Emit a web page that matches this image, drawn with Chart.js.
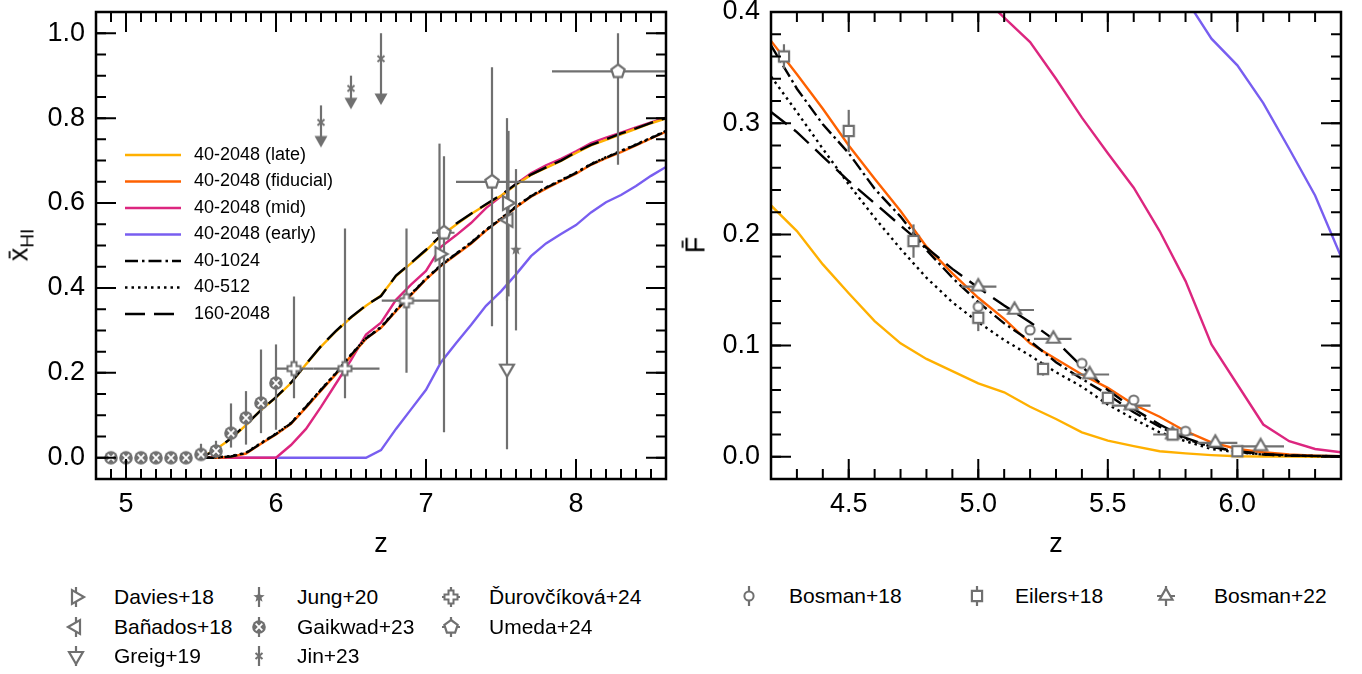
<!DOCTYPE html>
<html>
<head>
<meta charset="utf-8">
<script src="https://cdn.jsdelivr.net/npm/chart.js@4.4.1/dist/chart.umd.min.js"></script>
<style>
  html, body { margin: 0; padding: 0; background: #fff; }
  body { position: relative; width: 1362px; height: 674px; overflow: hidden; font-family: "Liberation Sans", Arial, sans-serif; }
  canvas.panel { position: absolute; top: -20px; }
  #left { left: 0; }
  #right { left: 690px; }
  .ytitle { position: absolute; font-size: 27px; line-height: 27px; white-space: nowrap; transform: translate(-50%, -50%) rotate(-90deg); }
  .ytitle sub { font-size: 19px; line-height: 0; }
  .key { position: absolute; font-size: 21px; line-height: 24px; white-space: nowrap; transform: translateY(-50%); }
  .keyicon { position: absolute; }
</style>
</head>
<body>
<canvas id="left" class="panel" width="690" height="580"></canvas>
<canvas id="right" class="panel" width="672" height="580"></canvas>
<div class="ytitle" style="left:19px;top:245px">x̄<sub>HI</sub></div>
<div class="ytitle" style="left:696px;top:245px">F̄</div>
<div id="keys"></div>
<script>
const FONT = '"Liberation Sans", Arial, sans-serif';
const GRAY = '#707070';
const C_LATE = '#FFB000', C_FID = '#FE6100', C_MID = '#DC267F', C_EARLY = '#785EF0';

// ---- left panel: volume-averaged neutral fraction from the simulations
const zModel = [5.5, 5.6, 5.7, 5.8, 5.9, 6.0, 6.1, 6.2, 6.3, 6.4, 6.5, 6.6, 6.7, 6.8, 6.9, 7.0,
                7.1, 7.2, 7.3, 7.4, 7.5, 7.6, 7.7, 7.8, 7.9, 8.0, 8.1, 8.2, 8.3, 8.4, 8.5, 8.6];
const xhiLate     = [0, 0.02, 0.045, 0.077, 0.113, 0.142, 0.176, 0.22, 0.262, 0.298, 0.33, 0.358, 0.382, 0.428, 0.458, 0.488,
                     0.523, 0.549, 0.574, 0.596, 0.617, 0.643, 0.666, 0.683, 0.699, 0.718, 0.736, 0.749, 0.762, 0.775, 0.788, 0.799];
const xhiFiducial = [0, 0, 0.002, 0.01, 0.033, 0.055, 0.08, 0.118, 0.158, 0.197, 0.24, 0.28, 0.306, 0.345, 0.383, 0.42,
                     0.452, 0.478, 0.504, 0.535, 0.562, 0.59, 0.615, 0.634, 0.652, 0.669, 0.69, 0.706, 0.72, 0.736, 0.752, 0.768];
const xhiMid      = [0, 0, 0, 0, 0, 0, 0.03, 0.068, 0.12, 0.175, 0.23, 0.29, 0.318, 0.372, 0.408, 0.44,
                     0.497, 0.524, 0.553, 0.588, 0.616, 0.645, 0.67, 0.689, 0.704, 0.722, 0.741, 0.754, 0.766, 0.778, 0.79, 0.801];
const xhiEarly    = [0, 0, 0, 0, 0, 0, 0, 0, 0, 0, 0, 0, 0.018, 0.068, 0.114, 0.16,
                     0.225, 0.27, 0.313, 0.358, 0.392, 0.432, 0.475, 0.505, 0.527, 0.548, 0.578, 0.602, 0.619, 0.64, 0.664, 0.685];
const xhi1024     = [0, 0, 0.003, 0.011, 0.034, 0.056, 0.081, 0.12, 0.16, 0.199, 0.242, 0.281, 0.307, 0.347, 0.385, 0.421,
                     0.453, 0.48, 0.506, 0.536, 0.563, 0.591, 0.616, 0.636, 0.653, 0.671, 0.691, 0.707, 0.722, 0.737, 0.753, 0.769];
const xhi512      = [0, 0.001, 0.004, 0.012, 0.035, 0.057, 0.082, 0.121, 0.161, 0.2, 0.243, 0.282, 0.308, 0.348, 0.386, 0.422,
                     0.454, 0.481, 0.507, 0.537, 0.564, 0.592, 0.617, 0.637, 0.654, 0.672, 0.692, 0.708, 0.723, 0.738, 0.754, 0.77];
const xhi160      = [0, 0.019, 0.046, 0.078, 0.112, 0.143, 0.177, 0.221, 0.263, 0.299, 0.331, 0.359, 0.381, 0.429, 0.459, 0.49,
                     0.524, 0.551, 0.575, 0.597, 0.619, 0.645, 0.667, 0.684, 0.7, 0.72, 0.737, 0.75, 0.764, 0.776, 0.789, 0.8];

// ---- left panel: observational constraints
const daviesZ = [7.09, 7.54], daviesX = [0.48, 0.60], daviesLo = [0.22, 0.37], daviesHi = [0.74, 0.80];
const banadosZ = [7.55], banadosX = [0.56], banadosLo = [0.38], banadosHi = [0.77];
const greigZ = [7.54], greigX = [0.21], greigLo = [0.02], greigHi = [0.38];
const jungZ = [7.6], jungX = [0.49], jungLo = [0.30], jungHi = [0.68];
const gaikZ  = [4.9, 5.0, 5.1, 5.2, 5.3, 5.4, 5.5, 5.6, 5.7, 5.8, 5.9, 6.0];
const gaikX  = [0, 0, 0, 0, 0, 0, 0.008, 0.016, 0.058, 0.094, 0.129, 0.176];
const gaikLo = [0, 0, 0, 0, 0, 0, 0, 0, 0.024, 0.031, 0.058, 0.066];
const gaikHi = [0, 0, 0, 0, 0, 0, 0.033, 0.04, 0.128, 0.157, 0.255, 0.267];
const jinZ = [6.3, 6.5, 6.7], jinX = [0.79, 0.87, 0.94], jinHi = [0.83, 0.90, 1.0], jinArrow = [0.745, 0.835, 0.845];
const durZ = [6.12, 6.46, 6.87], durX = [0.21, 0.21, 0.37], durLo = [0.14, 0.14, 0.20], durHi = [0.38, 0.54, 0.54];
const durZlo = [6.0, 6.25, 6.705], durZhi = [6.25, 6.69, 7.09];
const umedaZ = [7.12, 7.44, 8.28], umedaX = [0.53, 0.65, 0.91], umedaLo = [0.06, 0.31, 0.69], umedaHi = [0.71, 0.92, 1.0];
const umedaZlo = [7.04, 7.20, 7.84], umedaZhi = [7.19, 7.78, 8.9];

// ---- right panel: mean transmitted flux
const zFlux = [4.2, 4.3, 4.4, 4.5, 4.6, 4.7, 4.8, 4.9, 5.0, 5.1, 5.2, 5.3, 5.4, 5.5, 5.6, 5.7, 5.8, 5.9, 6.0, 6.1, 6.2, 6.3, 6.4];
const fLate     = [0.226, 0.203, 0.173, 0.147, 0.122, 0.102, 0.088, 0.077, 0.066, 0.058, 0.045, 0.034, 0.022, 0.0145, 0.0095, 0.005, 0.003, 0.0015, 0.0005, 0.0002, 0.0001, 0, 0];
const fFiducial = [0.374, 0.344, 0.313, 0.28, 0.25, 0.221, 0.189, 0.165, 0.143, 0.124, 0.102, 0.088, 0.074, 0.062, 0.047, 0.036, 0.023, 0.013, 0.007, 0.004, 0.002, 0.001, 0.0005];
const fMid      = [null, null, null, null, null, null, null, null, 0.417, 0.395, 0.373, 0.34, 0.305, 0.273, 0.242, 0.203, 0.158, 0.101, 0.065, 0.029, 0.014, 0.007, 0.004];
const fEarly    = [null, null, null, null, null, null, null, null, null, null, null, null, null, null, null, null, 0.412, 0.376, 0.352, 0.318, 0.277, 0.235, 0.18];
const f1024     = [0.37, 0.331, 0.299, 0.273, 0.241, 0.216, 0.186, 0.161, 0.139, 0.12, 0.104, 0.085, 0.07, 0.056, 0.04, 0.027, 0.016, 0.009, 0.0045, 0.002, 0.001, 0.0007, 0.0005];
const f512      = [0.342, 0.31, 0.277, 0.245, 0.215, 0.187, 0.161, 0.139, 0.121, 0.105, 0.091, 0.076, 0.063, 0.047, 0.034, 0.022, 0.014, 0.007, 0.004, 0.002, 0.001, 0.0006, 0.0004];
const f160      = [0.31, 0.292, 0.27, 0.248, 0.228, 0.208, 0.188, 0.169, 0.152, 0.136, 0.121, 0.104, 0.081, 0.06, 0.043, 0.029, 0.017, 0.009, 0.005, 0.0025, 0.0012, 0.0008, 0.0005];

const bosman18Z = [5.0, 5.2, 5.4, 5.6, 5.8], bosman18F = [0.135, 0.114, 0.084, 0.051, 0.023], bosman18Err = [0.003, 0.003, 0.003, 0.003, 0.002];
const eilersZ = [4.25, 4.5, 4.75, 5.0, 5.25, 5.5, 5.75, 6.0];
const eilersF = [0.36, 0.293, 0.194, 0.125, 0.079, 0.053, 0.02, 0.005];
const eilersErr = [0.011, 0.019, 0.015, 0.012, 0.006, 0.004, 0.003, 0.002];
const bosman22Z = [5.0, 5.14, 5.29, 5.43, 5.59, 5.75, 5.915, 6.09];
const bosman22F = [0.153, 0.132, 0.106, 0.074, 0.046, 0.02, 0.0125, 0.0093];
const bosman22Err = [0.003, 0.003, 0.003, 0.003, 0.003, 0.002, 0.002, 0.002];
const bosman22Zlo = [4.935, 5.075, 5.215, 5.36, 5.515, 5.675, 5.845, 6.015];
const bosman22Zhi = [5.07, 5.215, 5.36, 5.505, 5.665, 5.83, 6.0, 6.18];

// tick values
const leftZTicks = [5, 6, 7, 8];
const leftXhiTicks = [0, 0.2, 0.4, 0.6, 0.8, 1.0];
const rightZTicks = [4.5, 5.0, 5.5, 6.0];
const rightFluxTicks = [0, 0.1, 0.2, 0.3, 0.4];

// ---- marker glyphs
function marker(size, paint) {
  const c = document.createElement('canvas');
  c.width = size; c.height = size;
  const g = c.getContext('2d');
  g.translate(size / 2, size / 2);
  paint(g);
  return c;
}
function regular(n, r, rot) {
  const p = [];
  for (let k = 0; k < n; k++) {
    const t = rot + k * 2 * Math.PI / n;
    p.push([r * Math.sin(t), -r * Math.cos(t)]);
  }
  return p;
}
function path(g, p) {
  g.beginPath();
  p.forEach(([a, b], k) => k ? g.lineTo(a, b) : g.moveTo(a, b));
  g.closePath();
}
const open = (p, lw) => g => {
  path(g, p);
  g.fillStyle = '#fff'; g.fill();
  g.strokeStyle = GRAY; g.lineWidth = lw; g.lineJoin = 'miter'; g.stroke();
};
const mTriR = marker(24, open(regular(3, 8, Math.PI / 2), 2.2));
const mTriL = marker(24, open(regular(3, 8, -Math.PI / 2), 2.2));
const mTriD = marker(24, open(regular(3, 8, Math.PI), 2.2));
const mTriU = marker(24, open(regular(3, 7.5, 0), 2.2));
const mPent = marker(24, open(regular(5, 7, 0), 2.2));
const mSquare = marker(24, open(regular(4, 7.2, Math.PI / 4), 2.2));
const mCircle = marker(20, g => {
  g.beginPath(); g.arc(0, 0, 4.6, 0, 2 * Math.PI);
  g.fillStyle = '#fff'; g.fill(); g.strokeStyle = GRAY; g.lineWidth = 2; g.stroke();
});
const mStar = marker(18, g => {
  const p = [];
  for (let k = 0; k < 10; k++) {
    const r = k % 2 ? 2.6 : 6, t = k * Math.PI / 5;
    p.push([r * Math.sin(t), -r * Math.cos(t)]);
  }
  path(g, p); g.fillStyle = GRAY; g.fill();
});
const mGaik = marker(20, g => {
  g.beginPath(); g.arc(0, 0, 6.8, 0, 2 * Math.PI); g.fillStyle = GRAY; g.fill();
  g.strokeStyle = '#fff'; g.lineWidth = 1.8; g.beginPath();
  g.moveTo(-3.3, -3.3); g.lineTo(3.3, 3.3); g.moveTo(3.3, -3.3); g.lineTo(-3.3, 3.3); g.stroke();
});
const mPlus = marker(22, open([[-2.5, -6.5], [2.5, -6.5], [2.5, -2.5], [6.5, -2.5], [6.5, 2.5], [2.5, 2.5],
                               [2.5, 6.5], [-2.5, 6.5], [-2.5, 2.5], [-6.5, 2.5], [-6.5, -2.5], [-2.5, -2.5]], 2));
const mJin = marker(14, g => {
  g.strokeStyle = GRAY; g.lineWidth = 2; g.beginPath();
  g.moveTo(-3.5, -3); g.lineTo(3.5, 3); g.moveTo(3.5, -3); g.lineTo(-3.5, 3); g.stroke();
});
const mArrow = marker(18, g => {
  path(g, [[0, 6], [-6.5, -5.5], [6.5, -5.5]]); g.fillStyle = GRAY; g.fill();
});

// ---- dataset helpers
const pts = (zs, vs) => zs.map((z, i) => ({x: z, y: vs[i]})).filter(p => p.y !== null);
const pairs = (lo, hi) => lo.map((v, i) => [v, hi[i]]);
const sym = (vs, es) => vs.map((v, i) => [v - es[i], v + es[i]]);

function model(label, zs, vs, color, dash, order) {
  return {label, data: pts(zs, vs), showLine: true, borderColor: color, backgroundColor: color,
          borderWidth: 2.4, borderDash: dash, borderCapStyle: 'butt', pointRadius: 0, tension: 0, order};
}
function obs(label, zs, vs, style, errY, errX, key = true) {
  return {label, data: pts(zs, vs), pointStyle: style, pointRadius: 6, showLine: false,
          errY, errX, key, order: 0};
}

// ---- plugins
const errorBars = {
  id: 'errorBars',
  beforeDatasetDraw(chart, args) {
    const ds = chart.data.datasets[args.index];
    if (!ds.errY && !ds.errX) return;
    const {ctx, chartArea: a} = chart;
    const sx = chart.scales.x, sy = chart.scales.y;
    ctx.save();
    ctx.beginPath(); ctx.rect(a.left, a.top, a.right - a.left, a.bottom - a.top); ctx.clip();
    ctx.strokeStyle = GRAY; ctx.lineWidth = 2.2;
    ds.data.forEach((p, i) => {
      const px = sx.getPixelForValue(p.x), py = sy.getPixelForValue(p.y);
      ctx.beginPath();
      if (ds.errY) { ctx.moveTo(px, sy.getPixelForValue(ds.errY[i][0])); ctx.lineTo(px, sy.getPixelForValue(ds.errY[i][1])); }
      if (ds.errX) { ctx.moveTo(sx.getPixelForValue(ds.errX[i][0]), py); ctx.lineTo(sx.getPixelForValue(ds.errX[i][1]), py); }
      ctx.stroke();
    });
    ctx.restore();
  }
};

const frameTicks = {
  id: 'frameTicks',
  afterDraw(chart, args, opts) {
    const {ctx, chartArea: a} = chart;
    ctx.save();
    ctx.strokeStyle = '#000';
    ctx.lineWidth = 2;
    const tickAt = (s, v, len) => {
      const p = s.getPixelForValue(v);
      ctx.beginPath();
      if (s.isHorizontal()) {
        ctx.moveTo(p, a.bottom); ctx.lineTo(p, a.bottom - len);
        ctx.moveTo(p, a.top); ctx.lineTo(p, a.top + len);
      } else {
        ctx.moveTo(a.left, p); ctx.lineTo(a.left + len, p);
        ctx.moveTo(a.right, p); ctx.lineTo(a.right - len, p);
      }
      ctx.stroke();
    };
    [[chart.scales.x, opts.xMinor], [chart.scales.y, opts.yMinor]].forEach(([s, step]) => {
      const k0 = Math.ceil(s.min / step - 1e-6), k1 = Math.floor(s.max / step + 1e-6);
      for (let k = k0; k <= k1; k++) tickAt(s, k * step, 10);
      s.ticks.forEach(t => tickAt(s, t.value, 20));
    });
    ctx.lineWidth = 2.5;
    ctx.strokeRect(a.left, a.top, a.right - a.left, a.bottom - a.top);
    ctx.restore();
  }
};

const lineKey = {
  id: 'lineKey',
  afterDraw(chart, args, opts) {
    if (!opts.show) return;
    const ctx = chart.ctx;
    const rows = chart.data.datasets.filter(d => d.showLine);
    ctx.save();
    rows.forEach((d, r) => {
      const y = opts.top + r * opts.step;
      ctx.strokeStyle = d.borderColor; ctx.lineWidth = d.borderWidth;
      ctx.setLineDash(d.borderDash || []);
      ctx.beginPath(); ctx.moveTo(opts.x0, y); ctx.lineTo(opts.x1, y); ctx.stroke();
      ctx.setLineDash([]);
      ctx.fillStyle = '#000'; ctx.font = '18px ' + FONT; ctx.textBaseline = 'middle';
      ctx.fillText(d.label, opts.x1 + 13, y);
    });
    ctx.restore();
  }
};

function axes(xMin, xMax, xTicks, xFmt, yMin, yMax, yTicks, yWidth) {
  const tickFont = {family: FONT, size: 27};
  return {
    x: {type: 'linear', min: xMin, max: xMax,
        afterBuildTicks: s => { s.ticks = xTicks.map(v => ({value: v})); },
        afterFit: s => { s.height = 81; },
        grid: {display: false, drawTicks: false}, border: {display: false},
        ticks: {font: tickFont, color: '#000', padding: 9, maxRotation: 0, autoSkip: false, callback: xFmt},
        title: {display: true, text: 'z', color: '#000', font: {family: FONT, size: 27, lineHeight: 1}, padding: {top: 0, bottom: 2}}},
    y: {type: 'linear', min: yMin, max: yMax,
        afterBuildTicks: s => { s.ticks = yTicks.map(v => ({value: v})); },
        afterFit: s => { s.width = yWidth; },
        grid: {display: false, drawTicks: false}, border: {display: false},
        ticks: {font: tickFont, color: '#000', padding: 11, autoSkip: false, callback: v => v.toFixed(1)}}
  };
}

const DASHDOT = [13, 4, 2.5, 4], DOTTED = [2.5, 4], LONGDASH = [20, 9];

const leftChart = new Chart(document.getElementById('left'), {
  type: 'scatter',
  data: {datasets: [
    model('40-2048 (late)', zModel, xhiLate, C_LATE, [], 3),
    model('40-2048 (fiducial)', zModel, xhiFiducial, C_FID, [], 3),
    model('40-2048 (mid)', zModel, xhiMid, C_MID, [], 3),
    model('40-2048 (early)', zModel, xhiEarly, C_EARLY, [], 3),
    model('40-1024', zModel, xhi1024, '#000', DASHDOT, 2),
    model('40-512', zModel, xhi512, '#000', DOTTED, 2),
    model('160-2048', zModel, xhi160, '#000', LONGDASH, 2),
    obs('Davies+18', daviesZ, daviesX, mTriR, pairs(daviesLo, daviesHi)),
    obs('Bañados+18', banadosZ, banadosX, mTriL, pairs(banadosLo, banadosHi)),
    obs('Greig+19', greigZ, greigX, mTriD, pairs(greigLo, greigHi)),
    obs('Jung+20', jungZ, jungX, mStar, pairs(jungLo, jungHi)),
    obs('Gaikwad+23', gaikZ, gaikX, mGaik, pairs(gaikLo, gaikHi)),
    obs('Jin+23', jinZ, jinX, mJin, pairs(jinArrow, jinHi)),
    obs('Ďurovčíková+24', durZ, durX, mPlus, pairs(durLo, durHi), pairs(durZlo, durZhi)),
    obs('Umeda+24', umedaZ, umedaX, mPent, pairs(umedaLo, umedaHi), pairs(umedaZlo, umedaZhi)),
    obs('Jin+23 limits', jinZ, jinArrow, mArrow, undefined, undefined, false)
  ]},
  options: {
    responsive: false, animation: false, events: [],
    layout: {padding: {top: 32, right: 24, left: 0, bottom: 0}},
    plugins: {legend: {display: false}, tooltip: {enabled: false},
              frameTicks: {xMinor: 0.1, yMinor: 0.05},
              lineKey: {show: true, x0: 125, x1: 181, top: 175, step: 26.5}},
    scales: axes(4.8, 8.6, leftZTicks, v => String(v), -0.05, 1.05, leftXhiTicks, 96)
  },
  plugins: [errorBars, frameTicks, lineKey]
});

const rightChart = new Chart(document.getElementById('right'), {
  type: 'scatter',
  data: {datasets: [
    model('40-2048 (late)', zFlux, fLate, C_LATE, [], 3),
    model('40-2048 (fiducial)', zFlux, fFiducial, C_FID, [], 3),
    model('40-2048 (mid)', zFlux, fMid, C_MID, [], 3),
    model('40-2048 (early)', zFlux, fEarly, C_EARLY, [], 3),
    model('40-1024', zFlux, f1024, '#000', DASHDOT, 2),
    model('40-512', zFlux, f512, '#000', DOTTED, 2),
    model('160-2048', zFlux, f160, '#000', LONGDASH, 2),
    obs('Bosman+18', bosman18Z, bosman18F, mCircle, sym(bosman18F, bosman18Err)),
    obs('Eilers+18', eilersZ, eilersF, mSquare, sym(eilersF, eilersErr)),
    obs('Bosman+22', bosman22Z, bosman22F, mTriU, sym(bosman22F, bosman22Err), pairs(bosman22Zlo, bosman22Zhi))
  ]},
  options: {
    responsive: false, animation: false, events: [],
    layout: {padding: {top: 32, right: 21, left: 0, bottom: 0}},
    plugins: {legend: {display: false}, tooltip: {enabled: false},
              frameTicks: {xMinor: 0.1, yMinor: 0.02}},
    scales: axes(4.2, 6.4, rightZTicks, v => v.toFixed(1), -0.02, 0.4, rightFluxTicks, 81)
  },
  plugins: [errorBars, frameTicks]
});

// ---- legends below the panels
function placeKeys(chart, iconXs, textXs, rowYs) {
  const host = document.getElementById('keys');
  const entries = chart.data.datasets.filter(d => d.key);
  entries.forEach((d, i) => {
    const col = Math.floor(i / rowYs.length), row = i % rowYs.length;
    const cx = iconXs[col], cy = rowYs[row];
    const c = document.createElement('canvas');
    c.width = 30; c.height = 30; c.className = 'keyicon';
    c.style.left = (cx - 15) + 'px'; c.style.top = (cy - 15) + 'px';
    const g = c.getContext('2d');
    g.strokeStyle = GRAY; g.lineWidth = 2.2; g.beginPath();
    if (d.errY) { g.moveTo(15, 5); g.lineTo(15, 25); }
    if (d.errX) { g.moveTo(6, 15); g.lineTo(24, 15); }
    g.stroke();
    const m = d.pointStyle;
    g.drawImage(m, 15 - m.width / 2, 15 - m.height / 2);
    host.appendChild(c);
    const t = document.createElement('div');
    t.className = 'key'; t.textContent = d.label;
    t.style.left = textXs[col] + 'px'; t.style.top = cy + 'px';
    host.appendChild(t);
  });
}
placeKeys(leftChart, [76, 259, 451], [114, 297, 489], [597, 627, 656]);
placeKeys(rightChart, [749, 977, 1166], [789, 1015, 1214], [596]);
</script>
</body>
</html>
